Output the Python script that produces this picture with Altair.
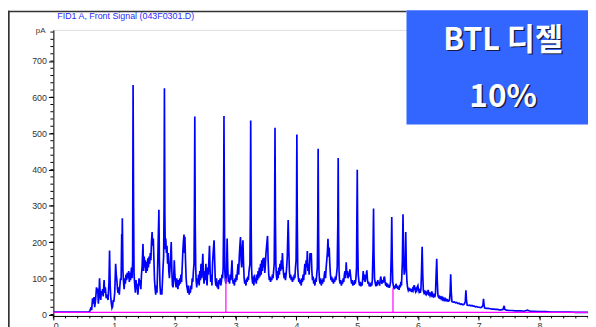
import altair as alt
import pandas as pd

# ---- chromatogram: (retention time [min], signal [pA]) ----
seg_start = [(0.0, 7), (0.58, 7), (0.60, 9), (0.62, 20), (0.63, 12), (0.645, 45), (0.655, 30), (0.67, 48),
             (0.68, 20), (0.695, 40), (0.71, 75), (0.72, 60), (0.73, 72), (0.74, 30), (0.75, 50), (0.76, 100),
             (0.77, 60), (0.78, 40), (0.79, 65), (0.80, 55), (0.81, 70), (0.82, 50), (0.835, 95), (0.845, 60),
             (0.855, 75), (0.87, 45), (0.885, 55), (0.90, 40), (0.915, 90), (0.925, 177), (0.935, 80),
             (0.945, 45), (0.955, 30), (0.965, 18), (0.975, 22), (0.985, 40), (0.995, 35)]
seg_1 = [(1.01, 60), (1.025, 140), (1.035, 110), (1.045, 95), (1.055, 70), (1.065, 60), (1.075, 75), (1.085, 55),
         (1.095, 80), (1.105, 100), (1.115, 95), (1.125, 222), (1.13, 180), (1.135, 266), (1.145, 120),
         (1.155, 90), (1.165, 70), (1.175, 100), (1.185, 85), (1.195, 110), (1.205, 95), (1.215, 115),
         (1.225, 100), (1.24, 120), (1.25, 90), (1.26, 115), (1.27, 95), (1.285, 130), (1.295, 100),
         (1.305, 150), (1.312, 634), (1.32, 300), (1.328, 110),
         (1.34, 80), (1.35, 60), (1.36, 95), (1.37, 70), (1.38, 85), (1.39, 55), (1.40, 75), (1.41, 100),
         (1.42, 80), (1.43, 95), (1.44, 70), (1.45, 110), (1.46, 130), (1.475, 195), (1.485, 120), (1.495, 160),
         (1.505, 130), (1.515, 150), (1.525, 115), (1.535, 145), (1.545, 120), (1.555, 155), (1.565, 130),
         (1.575, 160), (1.585, 140), (1.595, 170), (1.605, 150), (1.615, 200), (1.625, 228), (1.635, 190),
         (1.645, 210), (1.655, 150), (1.665, 95), (1.675, 70), (1.685, 55), (1.695, 80), (1.705, 60),
         (1.715, 120), (1.725, 200), (1.737, 289), (1.745, 150), (1.755, 80), (1.765, 55), (1.775, 70),
         (1.785, 55), (1.795, 90), (1.805, 130), (1.815, 160), (1.822, 300), (1.828, 625), (1.835, 280),
         (1.842, 180), (1.85, 210), (1.86, 170), (1.87, 190), (1.88, 140), (1.89, 170), (1.90, 120),
         (1.91, 100), (1.92, 130), (1.93, 160), (1.94, 200), (1.95, 120), (1.96, 80), (1.97, 75), (1.98, 100),
         (1.99, 150), (2.00, 110)]
seg_2 = [(2.01, 90), (2.02, 75), (2.03, 100), (2.04, 85), (2.05, 70), (2.06, 95), (2.07, 80), (2.08, 100),
         (2.09, 85), (2.10, 110), (2.11, 90), (2.12, 130), (2.13, 170), (2.14, 200), (2.15, 221), (2.16, 170),
         (2.165, 215), (2.175, 150), (2.185, 100), (2.195, 80), (2.205, 70), (2.215, 60), (2.225, 80),
         (2.235, 55), (2.245, 65), (2.255, 60), (2.265, 80), (2.275, 70), (2.285, 100), (2.295, 90),
         (2.305, 120), (2.315, 140), (2.322, 300), (2.328, 547), (2.335, 250), (2.343, 130),
         (2.35, 95), (2.36, 75), (2.37, 100), (2.38, 85), (2.39, 110), (2.40, 80), (2.41, 120), (2.42, 95),
         (2.43, 140), (2.44, 100), (2.45, 130), (2.46, 168), (2.47, 110), (2.48, 85), (2.49, 120), (2.50, 95),
         (2.51, 140), (2.52, 100), (2.53, 80), (2.54, 130), (2.55, 110), (2.56, 150), (2.57, 190), (2.58, 120),
         (2.59, 90), (2.60, 110), (2.61, 80), (2.62, 140), (2.63, 170), (2.645, 205), (2.655, 150),
         (2.665, 95), (2.675, 80), (2.685, 100), (2.695, 75), (2.705, 90), (2.715, 70), (2.725, 95),
         (2.735, 85), (2.745, 100), (2.755, 80), (2.765, 90), (2.775, 110), (2.785, 100), (2.795, 130),
         (2.802, 250), (2.808, 548), (2.815, 300), (2.822, 120), (2.83, 95),
         (2.84, 85), (2.85, 120), (2.86, 210), (2.87, 130), (2.88, 90), (2.89, 100), (2.90, 85), (2.91, 110),
         (2.92, 95), (2.93, 120), (2.94, 150), (2.95, 100), (2.96, 85), (2.97, 95), (2.98, 80), (2.99, 100)]
seg_3 = [(3.00, 90), (3.01, 110), (3.02, 95), (3.03, 120), (3.04, 140), (3.05, 110), (3.06, 160), (3.07, 190),
         (3.08, 214), (3.09, 150), (3.10, 130), (3.11, 180), (3.12, 205), (3.13, 140), (3.14, 100), (3.15, 85),
         (3.16, 95), (3.17, 80), (3.18, 100), (3.19, 90), (3.20, 105), (3.21, 95), (3.22, 120), (3.235, 140),
         (3.242, 280), (3.248, 536), (3.255, 260), (3.262, 130),
         (3.27, 100), (3.28, 85), (3.29, 105), (3.30, 80), (3.31, 110), (3.32, 90), (3.33, 100), (3.34, 85),
         (3.35, 110), (3.36, 95), (3.37, 120), (3.38, 100), (3.39, 130), (3.40, 105), (3.41, 140), (3.42, 110),
         (3.43, 150), (3.44, 120), (3.45, 155), (3.46, 130), (3.47, 157), (3.48, 115), (3.49, 140), (3.50, 170),
         (3.51, 190), (3.525, 217), (3.535, 150), (3.545, 110), (3.555, 95), (3.565, 105), (3.575, 90),
         (3.585, 100), (3.595, 95), (3.605, 110), (3.615, 100), (3.625, 120), (3.635, 140), (3.642, 280),
         (3.648, 516), (3.655, 260), (3.662, 140),
         (3.67, 110), (3.68, 95), (3.69, 120), (3.70, 100), (3.71, 130), (3.72, 110), (3.73, 140), (3.74, 120),
         (3.75, 150), (3.76, 125), (3.77, 170), (3.78, 130), (3.79, 110), (3.80, 100), (3.81, 115), (3.82, 95),
         (3.83, 110), (3.84, 130), (3.85, 160), (3.865, 261), (3.875, 180), (3.885, 120), (3.895, 100),
         (3.905, 110), (3.915, 95), (3.925, 105), (3.935, 90), (3.945, 100), (3.955, 95), (3.965, 110),
         (3.975, 100), (3.985, 130), (3.995, 150)]
seg_4 = [(4.002, 280), (4.008, 497), (4.015, 250), (4.022, 130),
         (4.03, 105), (4.04, 90), (4.05, 100), (4.06, 85), (4.07, 95), (4.08, 80), (4.09, 100), (4.10, 90),
         (4.11, 110), (4.12, 95), (4.13, 120), (4.14, 140), (4.15, 110), (4.16, 150), (4.17, 130), (4.18, 175),
         (4.19, 120), (4.20, 140), (4.21, 110), (4.225, 170), (4.235, 150), (4.245, 170), (4.255, 120),
         (4.265, 95), (4.275, 105), (4.285, 85), (4.295, 95), (4.305, 80), (4.315, 100), (4.325, 90),
         (4.335, 110), (4.345, 130), (4.352, 250), (4.358, 458), (4.365, 230), (4.372, 120),
         (4.38, 95), (4.39, 85), (4.40, 100), (4.41, 80), (4.42, 95), (4.43, 85), (4.44, 100), (4.45, 90),
         (4.46, 110), (4.47, 120), (4.48, 100), (4.49, 130), (4.50, 150), (4.51, 170), (4.52, 209), (4.53, 160),
         (4.54, 185), (4.55, 140), (4.56, 110), (4.57, 95), (4.58, 105), (4.59, 90), (4.60, 100), (4.61, 85),
         (4.62, 95), (4.63, 90), (4.64, 105), (4.65, 95), (4.66, 110), (4.672, 130), (4.682, 250),
         (4.688, 432), (4.695, 220), (4.702, 120),
         (4.71, 95), (4.72, 85), (4.73, 95), (4.74, 80), (4.75, 90), (4.76, 85), (4.77, 100), (4.78, 90),
         (4.79, 110), (4.80, 120), (4.81, 100), (4.82, 144), (4.83, 110), (4.84, 120), (4.85, 100), (4.86, 115),
         (4.87, 105), (4.88, 125), (4.89, 110), (4.90, 95), (4.91, 85), (4.92, 95), (4.93, 80), (4.94, 90),
         (4.95, 82), (4.96, 95), (4.97, 85), (4.98, 100), (4.99, 130)]
seg_5 = [(4.995, 250), (5.002, 400), (5.01, 200), (5.018, 110),
         (5.03, 90), (5.04, 80), (5.05, 90), (5.06, 78), (5.07, 88), (5.08, 80), (5.09, 95), (5.10, 120),
         (5.11, 95), (5.12, 110), (5.13, 90), (5.14, 100), (5.15, 110), (5.16, 122), (5.17, 95), (5.18, 85),
         (5.19, 90), (5.20, 78), (5.21, 85), (5.22, 77), (5.23, 88), (5.24, 80), (5.25, 95), (5.262, 180),
         (5.27, 293), (5.278, 160), (5.286, 100),
         (5.30, 85), (5.31, 78), (5.32, 90), (5.33, 80), (5.34, 95), (5.35, 85), (5.36, 90), (5.37, 80),
         (5.38, 95), (5.39, 105), (5.40, 90), (5.41, 85), (5.42, 95), (5.43, 88), (5.44, 100), (5.45, 105),
         (5.46, 90), (5.47, 80), (5.48, 88), (5.49, 76), (5.50, 85), (5.51, 75), (5.52, 82), (5.53, 74),
         (5.54, 80), (5.55, 90), (5.562, 170), (5.57, 269), (5.578, 150), (5.586, 90),
         (5.60, 76), (5.61, 70), (5.62, 80), (5.63, 72), (5.64, 85), (5.65, 74), (5.66, 80), (5.67, 70),
         (5.68, 78), (5.69, 68), (5.70, 82), (5.71, 75), (5.72, 90), (5.73, 80), (5.745, 150), (5.755, 277),
         (5.765, 150), (5.775, 110), (5.79, 130), (5.80, 228), (5.81, 130), (5.82, 90), (5.83, 75), (5.84, 68),
         (5.85, 74), (5.86, 65), (5.87, 72), (5.88, 64), (5.89, 70), (5.90, 62), (5.91, 70), (5.92, 66),
         (5.93, 75), (5.94, 81), (5.95, 70), (5.96, 64), (5.97, 70), (5.98, 66), (5.99, 76)]
seg_6 = [(6.00, 80), (6.01, 68), (6.02, 62), (6.03, 66), (6.04, 60), (6.05, 70), (6.06, 120), (6.07, 187),
         (6.08, 110), (6.09, 66), (6.10, 60), (6.11, 63), (6.12, 58), (6.13, 62), (6.14, 56), (6.15, 60),
         (6.16, 55), (6.17, 68), (6.18, 56), (6.19, 58), (6.20, 52), (6.21, 57), (6.22, 54), (6.23, 64),
         (6.24, 52), (6.25, 55), (6.26, 50), (6.27, 53), (6.28, 48), (6.29, 60), (6.30, 110), (6.31, 154),
         (6.32, 90), (6.33, 52), (6.34, 48), (6.35, 50), (6.36, 46), (6.37, 48), (6.38, 44), (6.39, 47),
         (6.40, 42), (6.41, 46), (6.42, 41), (6.43, 44), (6.44, 40), (6.45, 43), (6.46, 39), (6.47, 41),
         (6.48, 38), (6.49, 40), (6.50, 37), (6.52, 39), (6.53, 60), (6.54, 111), (6.55, 60), (6.56, 36),
         (6.58, 34), (6.60, 35), (6.62, 32), (6.64, 33), (6.66, 30), (6.68, 31), (6.70, 28), (6.72, 29),
         (6.74, 27), (6.76, 28), (6.78, 35), (6.79, 67), (6.80, 40), (6.81, 26), (6.83, 25), (6.85, 26),
         (6.87, 24), (6.89, 25), (6.91, 23), (6.93, 23), (6.95, 21), (6.97, 22), (6.99, 20)]
seg_end = [(7.01, 20), (7.03, 19), (7.05, 20), (7.07, 25), (7.08, 43), (7.09, 25), (7.10, 18), (7.13, 17),
           (7.16, 17), (7.19, 16), (7.22, 15), (7.25, 15), (7.28, 14), (7.31, 14), (7.34, 13), (7.37, 13),
           (7.40, 14), (7.42, 24), (7.43, 14), (7.46, 12), (7.50, 11), (7.55, 11), (7.60, 10), (7.65, 10),
           (7.70, 10), (7.75, 9), (7.80, 12), (7.85, 9), (7.90, 9), (8.0, 8), (8.1, 8), (8.2, 7), (8.3, 7),
           (8.4, 7), (8.5, 7), (8.6, 6), (8.7, 6), (8.8, 6)]

# integration baseline (magenta)
baseline_t = [0.0, 8.8]
baseline_v = [6, 6]
marker_t = [2.84, 5.59]
marker_top = [100, 73]

y_ticks = [0, 100, 200, 300, 400, 500, 600, 700]
x_ticks = [0, 1, 2, 3, 4, 5, 6, 7, 8]
y_minor = list(range(0, 800, 20))
x_minor = [round(i * 0.2, 1) for i in range(0, 45)]

title_text = "FID1 A, Front Signal (043F0301.D)"
box_line1 = "BTL 디젤"
box_line2 = "10%"

# ---- layout ----
W, H = 542, 290
X_DOM = [0, 8.8]
Y_DOM = [-4, 786]

pts = seg_start + seg_1 + seg_2 + seg_3 + seg_4 + seg_5 + seg_6 + seg_end
sig = pd.DataFrame(pts, columns=["t", "v"])
sig["o"] = range(len(sig))
base_df = pd.DataFrame({"t": baseline_t, "v": baseline_v})
mark_df = pd.DataFrame({"t": marker_t, "v": [6, 6], "top": marker_top})

xs = alt.Scale(domain=X_DOM, nice=False, zero=False)
ys = alt.Scale(domain=Y_DOM, nice=False, zero=False)

axis_common = dict(domainColor="black", tickColor="black", labelColor="#333333",
                   labelFont="Liberation Sans", labelFontSize=9, grid=False, title=None)
x_axis = alt.Axis(values=x_ticks, tickSize=4, labelPadding=2, **axis_common)
y_axis = alt.Axis(values=y_ticks, tickSize=5, labelPadding=2, **axis_common)

X = lambda f: alt.X(f, scale=xs, axis=x_axis)
Y = lambda f: alt.Y(f, scale=ys, axis=y_axis)

signal = alt.Chart(sig).mark_line(color="#0000ff", strokeWidth=1.7, clip=True).encode(
    x=X("t:Q"), y=Y("v:Q"), order="o:Q")

base_line = alt.Chart(base_df).mark_line(color="#ff00ff", strokeWidth=1.4).encode(x=X("t:Q"), y=Y("v:Q"))
markers = alt.Chart(mark_df).mark_rule(color="#ff00ff", strokeWidth=1.2).encode(
    x=X("t:Q"), y=Y("v:Q"), y2="top:Q")

yminor = alt.Chart(pd.DataFrame({"v": y_minor})).mark_rule(color="black", strokeWidth=1).encode(
    y=Y("v:Q"), x=alt.value(-3), x2=alt.value(0))
xminor = alt.Chart(pd.DataFrame({"t": x_minor})).mark_rule(color="black", strokeWidth=1).encode(
    x=X("t:Q"), y=alt.value(H), y2=alt.value(H + 2.5))

one = pd.DataFrame({"a": [0]})
# thin outer frame of the picture (left and top edges), as filled strips
frame_left = alt.Chart(one).mark_rect(color="#333333").encode(
    x=alt.value(-46), x2=alt.value(-44.3), y=alt.value(-19.5), y2=alt.value(H + 20))
frame_top = alt.Chart(one).mark_rect(color="#333333").encode(
    x=alt.value(-46), x2=alt.value(358), y=alt.value(-19.5), y2=alt.value(-17.8))
title = alt.Chart(one).mark_text(text=title_text, color="#2a2aff", font="Liberation Sans", fontSize=9,
                                 align="left", baseline="middle").encode(x=alt.value(4), y=alt.value(-14))
pa = alt.Chart(one).mark_text(text="pA", color="#333333", font="Liberation Sans", fontSize=8,
                              align="right", baseline="middle").encode(x=alt.value(-8), y=alt.value(1))
box = alt.Chart(one).mark_rect(color="#3366ff").encode(
    x=alt.value(358), x2=alt.value(W), y=alt.value(-20), y2=alt.value(96))


def label(text, y, size):
    sh = alt.Chart(one).mark_text(text=text, color="#1a1a40", font="Noto Sans CJK KR", fontWeight="bold",
                                  fontSize=size, align="center", baseline="middle").encode(
        x=alt.value(457.5), y=alt.value(y + 1.5))
    fg = alt.Chart(one).mark_text(text=text, color="white", font="Noto Sans CJK KR", fontWeight="bold",
                                  fontSize=size, align="center", baseline="middle").encode(
        x=alt.value(456), y=alt.value(y))
    return sh + fg


chart = alt.layer(
    signal, base_line, markers, yminor, xminor, frame_left, frame_top, title, pa, box,
    label(box_line1, 11, 31), label(box_line2, 68, 32),
).properties(
    width=W, height=H,
    autosize=alt.AutoSizeParams(type="none"),
    padding={"left": 46, "top": 20, "right": 0, "bottom": 10},
)

chart.save("out.html", embed_options={"renderer": "svg", "actions": False})
